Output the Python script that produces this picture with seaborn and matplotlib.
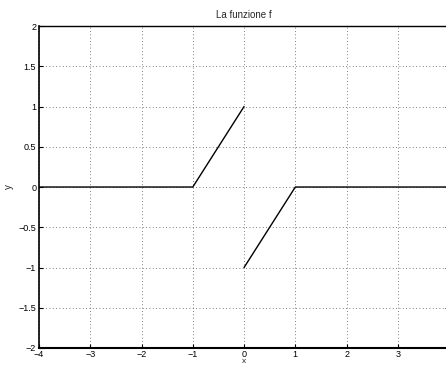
import matplotlib
matplotlib.use("Agg")
import matplotlib.pyplot as plt
import seaborn as sns
import pandas as pd

# Piecewise function f, drawn as two separate branches
branch_a_x = [-4, -1, 0]
branch_a_y = [0, 0, 1]
branch_b_x = [0, 1, 4]
branch_b_y = [-1, 0, 0]

x_ticks = [-4, -3, -2, -1, 0, 1, 2, 3]
y_ticks = [-2, -1.5, -1, -0.5, 0, 0.5, 1, 1.5, 2]
y_tick_labels = ["\u22122", "\u22121.5", "\u22121", "\u22120.5", "0", "0.5", "1", "1.5", "2"]
x_tick_labels = ["\u22124", "\u22123", "\u22122", "\u22121", "0", "1", "2", "3"]

df = pd.DataFrame({
    "x": branch_a_x + branch_b_x,
    "y": branch_a_y + branch_b_y,
    "branch": ["a"] * len(branch_a_x) + ["b"] * len(branch_b_x),
})

sns.set_style("white")
plt.rcParams["font.family"] = ["Liberation Sans", "DejaVu Sans"]

fig = plt.figure(figsize=(4.46, 3.67), dpi=100)
ax = fig.add_axes([0.0874, 0.0518, 0.9196, 0.8772])

sns.lineplot(data=df, x="x", y="y", units="branch", estimator=None, sort=False,
             color="black", linewidth=1.0, ax=ax, legend=False)

ax.set_xlim(-4, 4)
ax.set_ylim(-2, 2)
ax.set_xticks(x_ticks)
ax.set_xticklabels(x_tick_labels)
ax.set_yticks(y_ticks)
ax.set_yticklabels(y_tick_labels)
ax.grid(True, linestyle=(0, (1, 3)), color="#555555", linewidth=0.6)
ax.tick_params(direction="in", length=3, width=0.8, labelsize=6.5, colors="black",
               pad=2, top=True, right=True, bottom=True, left=True)
ax.tick_params(axis="x", top=False, pad=1.5)
for side in ["left", "bottom", "top", "right"]:
    ax.spines[side].set_color("black")
ax.spines["left"].set_linewidth(1.2)
ax.spines["bottom"].set_linewidth(1.5)
ax.spines["top"].set_linewidth(1.0)
ax.spines["right"].set_linewidth(1.0)

ax.set_title("La funzione f", fontsize=7, pad=6)
ax.set_xlabel("x", fontsize=6, labelpad=-0.5)
ax.set_ylabel("y", fontsize=7, labelpad=3)

fig.savefig("out.png", dpi=100)
